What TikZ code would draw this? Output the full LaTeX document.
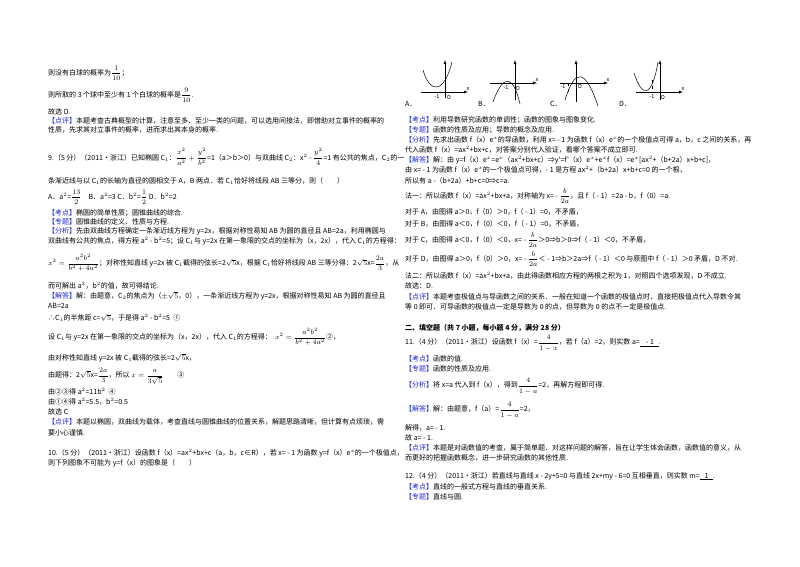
\documentclass[tikz,border=0pt]{standalone}
\usepackage{fontspec}
\setmainfont{Liberation Serif}
\newfontfamily\cjk{Noto Sans CJK SC}
\usepackage{amsmath}
\definecolor{tagblue}{RGB}{30,40,210}
\newcommand\tg[1]{\textcolor{tagblue}{【#1】}}
\newcommand\fr[2]{\dfrac{#1}{#2}}
\begin{document}
\begin{tikzpicture}[x=1pt,y=-1pt,
  ln/.style={anchor=west,inner sep=0pt,font=\cjk\fontsize{7}{7}\selectfont},
  ax/.style={-latex,line width=0.4pt},
  cv/.style={line width=0.5pt}]
\useasboundingbox[fill=white] (0,0) rectangle (800,566);
% ---------- left column
\node[ln] (l1) at (48,73) {则没有白球的概率为$\fr{1}{10}$；};
\node[ln] (l2) at (48,95) {则所取的 3 个球中至少有 1 个白球的概率是$\fr{9}{10}$.};
\node[ln] (l3) at (48,112) {故选 D.};
\node[ln] (l4) at (48,121) {\tg{点评}本题考查古典概型的计算，注意至多、至少一类的问题，可以选用间接法，即借助对立事件的概率的};
\node[ln] (l5) at (48,130) {性质，先求其对立事件的概率，进而求出其本身的概率.};
\node[ln] (l6) at (48,157) {9.（5 分）（2011•浙江）已知椭圆 C$_1$：$\fr{x^2}{a^2}+\fr{y^2}{b^2}$=1（a＞b＞0）与双曲线 C$_2$：x$^2$ - $\fr{y^2}{4}$=1 有公共的焦点，C$_2$的一};
\node[ln] (l7) at (48,181) {条渐近线与以 C$_1$的长轴为直径的圆相交于 A，B 两点．若 C$_1$恰好将线段 AB 三等分，则（\quad\quad）};
\node[ln] (l8) at (48,197) {A．a$^2$=$\fr{13}{2}$\quad B．a$^2$=3 C．b$^2$=$\fr{1}{2}$ D．b$^2$=2};
\node[ln] (l9) at (48,213) {\tg{考点}椭圆的简单性质；圆锥曲线的综合.};
\node[ln] (l10) at (48,222) {\tg{专题}圆锥曲线的定义、性质与方程.};
\node[ln] (l11) at (48,231) {\tg{分析}先由双曲线方程确定一条渐近线方程为 y=2x，根据对称性易知 AB 为圆的直径且 AB=2a，利用椭圆与};
\node[ln] (l12) at (48,241) {双曲线有公共的焦点，得方程 a$^2$ - b$^2$=5；设 C$_1$与 y=2x 在第一象限的交点的坐标为（x，2x），代入 C$_1$的方程得：};
\node[ln] (l13) at (48,263) {$x^2=\fr{a^2b^2}{b^2+4a^2}$；对称性知直线 y=2x 被 C$_1$截得的弦长=2$\sqrt{5}$x，根据 C$_1$恰好将线段 AB 三等分得：2$\sqrt{5}$x=$\fr{2a}{3}$，从};
\node[ln] (l14) at (48,286) {而可解出 a$^2$，b$^2$的值，故可得结论.};
\node[ln] (l15) at (48,296) {\tg{解答}解：由题意，C$_2$的焦点为（$\pm\sqrt{5}$，0），一条渐近线方程为 y=2x，根据对称性易知 AB 为圆的直径且};
\node[ln] (l16) at (48,306) {AB=2a};
\node[ln] (l17) at (48,318) {∴C$_1$的半焦距 c=$\sqrt{5}$，于是得 a$^2$ - b$^2$=5\ \ ①};
\node[ln] (l18) at (48,337) {设 C$_1$与 y=2x 在第一象限的交点的坐标为（x，2x），代入 C$_1$的方程得：\ \ $x^2=\fr{a^2b^2}{b^2+4a^2}$②，};
\node[ln] (l19) at (48,358) {由对称性知直线 y=2x 被 C$_1$截得的弦长=2$\sqrt{5}$x，};
\node[ln] (l20) at (48,376) {由题得：2$\sqrt{5}$x=$\fr{2a}{3}$，所以 $x=\fr{a}{3\sqrt{5}}$\qquad ③};
\node[ln] (l21) at (48,392) {由②③得 a$^2$=11b$^2$\ \ ④};
\node[ln] (l22) at (48,402) {由①④得 a$^2$=5.5，b$^2$=0.5};
\node[ln] (l23) at (48,412) {故选 C};
\node[ln] (l24) at (48,422) {\tg{点评}本题以椭圆，双曲线为载体，考查直线与圆锥曲线的位置关系，解题思路清晰，但计算有点烦琐，需};
\node[ln] (l25) at (48,433) {要小心谨慎.};
\node[ln] (l26) at (48,453) {10.（5 分）（2011•浙江）设函数 f（x）=ax$^2$+bx+c（a，b，c∈R），若 x= - 1 为函数 y=f（x）e$^x$的一个极值点，};
\node[ln] (l27) at (48,463) {则下列图象不可能为 y=f（x）的图象是（\quad\quad）};
% ---------- graphs
\begin{scope}[font=\cjk\fontsize{5.5}{6}\selectfont]
\draw[ax] (421,92) -- (468,92) node[above,inner sep=1pt] {x};
\draw[ax] (445,98) -- (445,60);
\draw[cv] (423,70) .. controls (430,94) and (444,94) .. (452,62);
\node (tA1) at (437,97) {-1}; \node (tA2) at (449,97) {O};
\node[ln] (gA) at (405,104) {A．};
\draw[ax] (490,83) -- (537,83) node[above,inner sep=1pt] {x};
\draw[ax] (515,100) -- (515,60);
\draw[cv] (493,102) .. controls (503,74) and (513,74) .. (520,104);
\node (tB1) at (506,88) {-1}; \node (tB2) at (518,88) {O};
\node[ln] (gB) at (478,104) {B．};
\draw[ax] (560,83) -- (608,83) node[above,inner sep=1pt] {x};
\draw[ax] (576,102) -- (576,60);
\draw[cv] (565,100) .. controls (575,68) and (585,68) .. (598,106);
\draw[dashed,line width=0.3pt] (568,83) -- (568,92);
\node (tC1) at (563,87) {-1}; \node (tC2) at (580,86) {O};
\node[ln] (gC) at (550,104) {C．};
\draw[ax] (636,92) -- (683,92) node[above,inner sep=1pt] {x};
\draw[ax] (660,100) -- (660,60);
\draw[cv] (634,73) .. controls (642,98) and (652,98) .. (658,62);
\draw[dashed,line width=0.3pt] (652,80) -- (652,92);
\node (tD1) at (652,97) {-1}; \node (tD2) at (663,97) {O};
\node[ln] (gD) at (619,104) {D．};
\end{scope}
% ---------- right column
\node[ln] (r1) at (405,120) {\tg{考点}利用导数研究函数的单调性；函数的图象与图象变化.};
\node[ln] (r2) at (405,130) {\tg{专题}函数的性质及应用；导数的概念及应用.};
\node[ln] (r3) at (405,140) {\tg{分析}先求出函数 f（x）e$^x$的导函数，利用 x= - 1 为函数 f（x）e$^x$的一个极值点可得 a，b，c 之间的关系，再};
\node[ln] (r4) at (405,150) {代入函数 f（x）=ax$^2$+bx+c，对答案分别代入验证，看哪个答案不成立即可.};
\node[ln] (r5) at (405,160) {\tg{解答}解：由 y=f（x）e$^x$=e$^x$（ax$^2$+bx+c）⇒y'=f'（x）e$^x$+e$^x$f（x）=e$^x$[ax$^2$+（b+2a）x+b+c]，};
\node[ln] (r6) at (405,170) {由 x= - 1 为函数 f（x）e$^x$的一个极值点可得，- 1 是方程 ax$^2$+（b+2a）x+b+c=0 的一个根，};
\node[ln] (r7) at (405,181) {所以有 a -（b+2a）+b+c=0⇒c=a.};
\node[ln] (r8) at (405,196) {法一：所以函数 f（x）=ax$^2$+bx+a，对称轴为 x= - $\fr{b}{2a}$，且 f（ - 1）=2a - b，f（0）=a.};
\node[ln] (r9) at (405,212) {对于 A，由图得 a＞0，f（0）＞0，f（ - 1）=0，不矛盾，};
\node[ln] (r10) at (405,224) {对于 B，由图得 a＜0，f（0）＜0，f（ - 1）=0，不矛盾，};
\node[ln] (r11) at (405,240) {对于 C，由图得 a＜0，f（0）＜0，x= - $\fr{b}{2a}$＞0⇒b＞0⇒f（ - 1）＜0，不矛盾，};
\node[ln] (r12) at (405,259) {对于 D，由图得 a＞0，f（0）＞0，x= - $\fr{b}{2a}$＜ - 1⇒b＞2a⇒f（ - 1）＜0 与原图中 f（ - 1）＞0 矛盾，D 不对.};
\node[ln] (r13) at (405,276) {法二：所以函数 f（x）=ax$^2$+bx+a，由此得函数相应方程的两根之积为 1，对照四个选项发现，D 不成立.};
\node[ln] (r14) at (405,286) {故选：D.};
\node[ln] (r15) at (405,297) {\tg{点评}本题考查极值点与导函数之间的关系．一般在知道一个函数的极值点时，直接把极值点代入导数令其};
\node[ln] (r16) at (405,307) {等 0 即可．可导函数的极值点一定是导数为 0 的点，但导数为 0 的点不一定是极值点.};
\node[ln,font=\cjk\bfseries\fontsize{7}{7}\selectfont] (r17) at (405,328) {二、填空题（共 7 小题，每小题 4 分，满分 28 分）};
\node[ln] (r18) at (405,343) {11.（4 分）（2011•浙江）设函数 f（x）=$\fr{4}{1-x}$，若 f（a）=2，则实数 a=\underline{\ \ \ \ - 1\ \ \ }.};
\node[ln] (r19) at (405,359) {\tg{考点}函数的值.};
\node[ln] (r20) at (405,369) {\tg{专题}函数的性质及应用.};
\node[ln] (r21) at (405,386) {\tg{分析}将 x=a 代入到 f（x），得到$\fr{4}{1-a}$=2，再解方程即可得.};
\node[ln] (r22) at (405,410) {\tg{解答}解：由题意，f（a）=$\fr{4}{1-a}$=2，};
\node[ln] (r23) at (405,428) {解得，a= - 1.};
\node[ln] (r24) at (405,438) {故 a= - 1.};
\node[ln] (r25) at (405,448) {\tg{点评}本题是对函数值的考查，属于简单题．对这样问题的解答，旨在让学生体会函数，函数值的意义，从};
\node[ln] (r26) at (405,458) {而更好的把握函数概念，进一步研究函数的其他性质.};
\node[ln] (r27) at (405,476) {12.（4 分）（2011•浙江）若直线与直线 x - 2y+5=0 与直线 2x+my - 6=0 互相垂直，则实数 m=\underline{\ \ \ 1\ \ \ }.};
\node[ln] (r28) at (405,487) {\tg{考点}直线的一般式方程与直线的垂直关系.};
\node[ln] (r29) at (405,497) {\tg{专题}直线与圆.};
\end{tikzpicture}
\end{document}
